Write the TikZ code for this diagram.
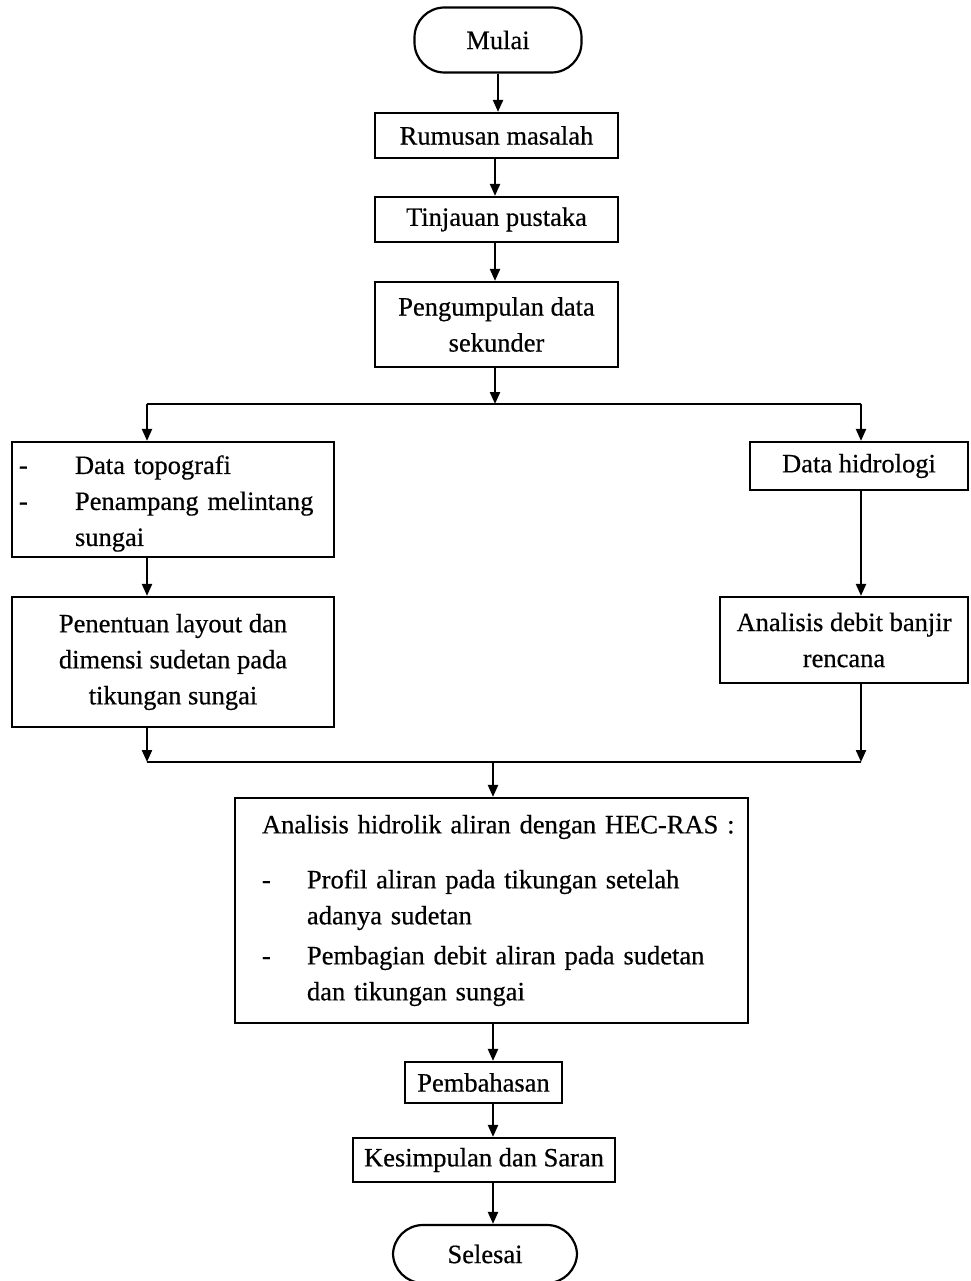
\documentclass[tikz,border=0pt]{standalone}
\usepackage{fontspec}
\setmainfont{Liberation Serif}[FakeBold=0.5]
\usetikzlibrary{arrows.meta}
\begin{document}
\begin{tikzpicture}[x=1pt,y=-1pt,
  lw/.style={line width=2.2pt},
  txt/.style={inner sep=0pt, align=center, font=\fontsize{26.5}{36}\selectfont},
  box/.style={draw, lw, txt},
  term/.style={box, rounded corners=30pt},
  arr/.style={lw, -{Triangle[length=12pt,width=10pt]}},
  ln/.style={lw}]
\useasboundingbox (0,0) rectangle (970,1281);
\fill[white] (0,0) rectangle (970,1281);

\node[term, minimum width=167pt, minimum height=65pt] (mulai) at (498,40) {Mulai};
\node[box, minimum width=243pt, minimum height=45pt] (rum) at (496.5,135.5) {Rumusan masalah};
\node[box, minimum width=243pt, minimum height=45pt] (tin) at (496.5,219.5) {Tinjauan pustaka};
\node[box, minimum width=243pt, minimum height=85pt] (pen) at (496.5,324.5) {Pengumpulan data\\sekunder};

\coordinate (sl) at (147,404);
\coordinate (sm) at (495,404);
\coordinate (sr) at (861,404);

\node[box, minimum width=322pt, minimum height=115pt] (l1) at (173,499.5) {};
\node[txt, text width=308pt, align=left] (l1t) at (173,503.5)
  {\mbox{\makebox[56pt][l]{-}Data topografi}\\\mbox{\makebox[56pt][l]{-}Penampang melintang}\\\mbox{\hspace*{56pt}sungai}};
\node[box, minimum width=322pt, minimum height=130pt] (l2) at (173,662)
  {Penentuan layout dan\\dimensi sudetan pada\\tikungan sungai};
\node[box, minimum width=218pt, minimum height=48pt] (r1) at (859,466) {Data hidrologi};
\node[box, minimum width=248pt, minimum height=86pt] (r2) at (844,640) {Analisis debit banjir\\rencana};

\coordinate (jl) at (147,762);
\coordinate (jm) at (493,762);
\coordinate (jr) at (861,762);

\node[box, minimum width=513pt, minimum height=225pt, text width=459pt, align=left] (hec) at (491.5,910.5)
  {\mbox{Analisis hidrolik aliran dengan HEC-RAS :}\\[19pt]
   \mbox{\makebox[45pt][l]{-}Profil aliran pada tikungan setelah}\\
   \mbox{\hspace*{45pt}adanya sudetan}\\[4pt]
   \mbox{\makebox[45pt][l]{-}Pembagian debit aliran pada sudetan}\\
   \mbox{\hspace*{45pt}dan tikungan sungai}};

\node[box, minimum width=157pt, minimum height=41pt] (pem) at (483.5,1082.5) {Pembahasan};
\node[box, minimum width=262pt, minimum height=44pt] (kes) at (484,1160) {Kesimpulan dan Saran};
\node[term, minimum width=184pt, minimum height=58pt] (sel) at (485,1254) {Selesai};

% top chain
\draw[arr] (mulai.south) -- (mulai.south |- rum.north);
\draw[arr] (sm |- rum.south) -- (sm |- tin.north);
\draw[arr] (sm |- tin.south) -- (sm |- pen.north);
\draw[arr] (sm |- pen.south) -- (sm);
\draw[ln] (sl) -- (sr);
\draw[arr] (sl) -- (sl |- l1.north);
\draw[arr] (sr) -- (sr |- r1.north);
\draw[arr] (sl |- l1.south) -- (sl |- l2.north);
\draw[arr] (sr |- r1.south) -- (sr |- r2.north);
% join
\draw[arr] (sl |- l2.south) -- (jl);
\draw[arr] (sr |- r2.south) -- (jr);
\draw[ln] (jl) -- (jr);
\draw[arr] (jm) -- (jm |- hec.north);
% bottom chain
\draw[arr] (jm |- hec.south) -- (jm |- pem.north);
\draw[arr] (jm |- pem.south) -- (jm |- kes.north);
\draw[arr] (jm |- kes.south) -- (jm |- sel.north);
\end{tikzpicture}
\end{document}
